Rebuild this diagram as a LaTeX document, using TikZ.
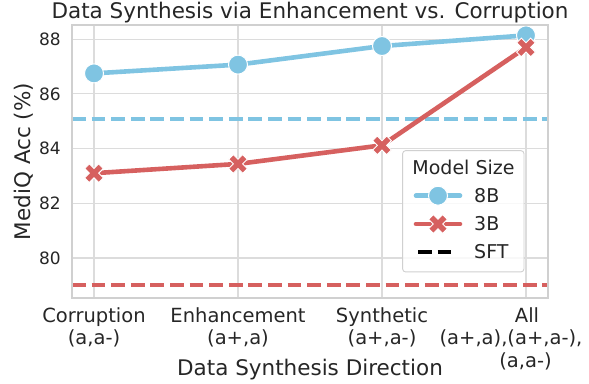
\documentclass[tikz,border=0pt]{standalone}
\usepackage{fontspec}
\setmainfont{DejaVu Sans}
\definecolor{sky}{HTML}{7FC4E2}
\definecolor{rd}{HTML}{D6605F}
\definecolor{gridc}{HTML}{DCDCDC}
\definecolor{spinec}{HTML}{D0D0D0}
\definecolor{txt}{HTML}{262626}
\tikzset{
  gridline/.style={draw=gridc, line width=1.1pt},
  spine/.style={draw=spinec, line width=1.3pt},
  ytick/.style={anchor=east, text=txt, font=\fontsize{17}{20}\selectfont, inner sep=0pt},
  xtick/.style={anchor=base, text=txt, font=\fontsize{19.5}{22.7}\selectfont, inner sep=0pt},
  axlabel/.style={text=txt, font=\fontsize{21.5}{25}\selectfont, inner sep=0pt},
  bline/.style={draw=sky, line width=4.6pt, line join=round},
  rline/.style={draw=rd, line width=4.6pt, line join=round},
  bdash/.style={draw=sky, line width=3.7pt, dash pattern=on 13.7pt off 5.9pt},
  rdash/.style={draw=rd, line width=3.7pt, dash pattern=on 13.7pt off 5.9pt},
  kdash/.style={draw=black, line width=3.7pt, dash pattern=on 13.7pt off 5.9pt},
  bmark/.style={circle, fill=sky, draw=white, line width=1pt, minimum size=19pt, inner sep=0pt},
  legtext/.style={anchor=west, text=txt, font=\fontsize{19}{22}\selectfont, inner sep=0pt},
  xmark/.pic={
    \fill[rd, draw=white, line width=0.9pt, rotate=45]
      (3.3,9.9) -- (3.3,3.3) -- (9.9,3.3) -- (9.9,-3.3) -- (3.3,-3.3) -- (3.3,-9.9)
      -- (-3.3,-9.9) -- (-3.3,-3.3) -- (-9.9,-3.3) -- (-9.9,3.3) -- (-3.3,3.3) -- (-3.3,9.9) -- cycle;
  }
}
\newcommand{\yv}[1]{125+(#1-80)*27.35}
\begin{document}
\begin{tikzpicture}[x=1pt, y=1pt]
\useasboundingbox (0,0) rectangle (589,383);
% axes corners
\coordinate (axsw) at (72,85);
\coordinate (axne) at (548,358);
% grid
\foreach \xx/\nm in {94/c1,238/c2,382/c3,526/c4}{
  \coordinate (gb\nm) at (\xx,85);
  \coordinate (gt\nm) at (\xx,358);
  \draw[gridline] (gb\nm) -- (gt\nm);
}
\foreach \vv in {80,82,84,86,88}{
  \coordinate (gl\vv) at (72,{\yv{\vv}});
  \coordinate (gr\vv) at (548,{\yv{\vv}});
  \draw[gridline] (gl\vv) -- (gr\vv);
  \node[ytick] (yt\vv) at (61,{\yv{\vv}}) {\vv};
}
% x tick labels
\node[xtick] (xt1a) at (94,60.7) {Corruption};
\node[xtick] (xt1b) at (94,38) {(a,a-)};
\node[xtick] (xt2a) at (238,60.7) {Enhancement};
\node[xtick] (xt2b) at (238,38) {(a+,a)};
\node[xtick] (xt3a) at (382,60.7) {Synthetic};
\node[xtick] (xt3b) at (382,38) {(a+,a-)};
\node[xtick] (xt4a) at (527,60.7) {All};
\node[xtick] (xt4b) at (511,38) {(a+,a),(a+,a-),};
\node[xtick] (xt4c) at (525.5,15.3) {(a,a-)};
% SFT lines
\coordinate (bsl) at (72,{\yv{85.08}});
\coordinate (bsr) at (548,{\yv{85.08}});
\coordinate (rsl) at (72,{\yv{79.01}});
\coordinate (rsr) at (548,{\yv{79.01}});
\draw[bdash] (bsl) -- (bsr);
\draw[rdash] (rsl) -- (rsr);
% data
\coordinate (b1) at (94,{\yv{86.75}});
\coordinate (b2) at (238,{\yv{87.07}});
\coordinate (b3) at (382,{\yv{87.75}});
\coordinate (b4) at (526,{\yv{88.14}});
\coordinate (r1) at (94,{\yv{83.1}});
\coordinate (r2) at (238,{\yv{83.44}});
\coordinate (r3) at (382,{\yv{84.12}});
\coordinate (r4) at (526,{\yv{87.7}});
\draw[bline] (b1) -- (b2) -- (b3) -- (b4);
\foreach \p in {b1,b2,b3,b4}{ \node[bmark] (m\p) at (\p) {}; }
\draw[rline] (r1) -- (r2) -- (r3) -- (r4);
\foreach \p in {r1,r2,r3,r4}{ \pic at (\p) {xmark}; }
% spines
\draw[spine] (axsw) rectangle (axne);
% labels
\node[axlabel] (title) at (310,370.3) {Data Synthesis via Enhancement vs. Corruption};
\node[axlabel, rotate=90] (ylab) at (24,221.5) {MediQ Acc (\%)};
\node[axlabel] (xlab) at (310,13.6) {Data Synthesis Direction};
% legend
\node[draw=spinec, line width=0.9pt, fill=white, fill opacity=0.8, rounded corners=3pt,
      minimum width=121.3pt, minimum height=121.3pt, inner sep=0pt] (legend) at (463.3,171.7) {};
\node[text=txt, font=\fontsize{19}{22}\selectfont, inner sep=0pt] (legtitle) at (463.5,216) {Model Size};
\coordinate (l8a) at (416,187.3); \coordinate (l8b) at (460,187.3);
\coordinate (l3a) at (416,159); \coordinate (l3b) at (460,159);
\coordinate (lsa) at (418,131); \coordinate (lsb) at (453,131);
\draw[bline, line cap=round] (l8a) -- (l8b);
\node[bmark] (l8m) at (438,187.3) {};
\draw[rline, line cap=round] (l3a) -- (l3b);
\coordinate (l3m) at (438,159);
\pic at (l3m) {xmark};
\draw[kdash] (lsa) -- (lsb);
\node[legtext] (l8t) at (474,187.3) {8B};
\node[legtext] (l3t) at (474,159) {3B};
\node[legtext] (lst) at (474,131) {SFT};
\end{tikzpicture}
\end{document}
